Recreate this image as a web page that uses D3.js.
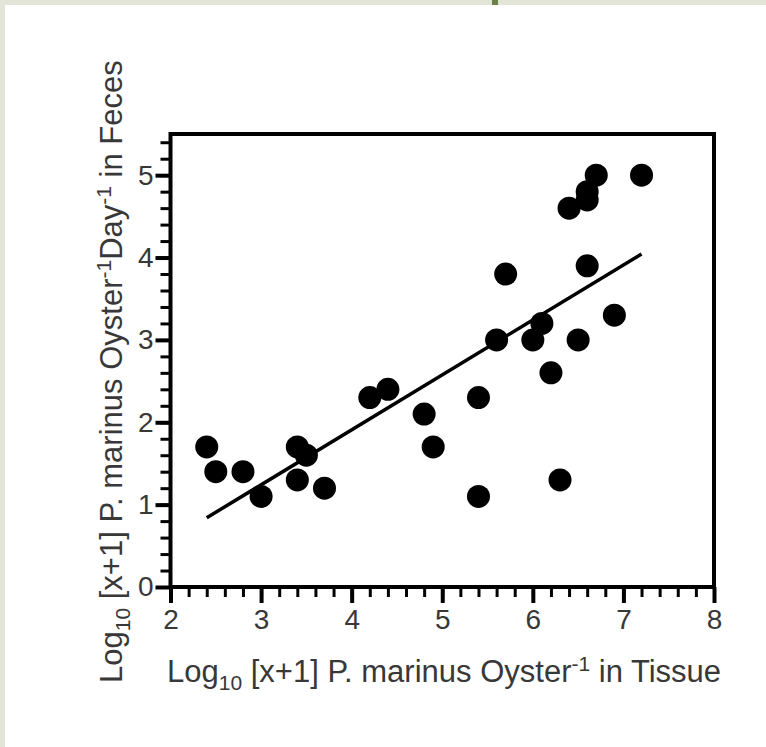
<!DOCTYPE html>
<html>
<head>
<meta charset="utf-8">
<script src="https://cdn.jsdelivr.net/npm/d3@7"></script>
<style>
  html, body { margin: 0; padding: 0; background: #fff; }
  svg { display: block; }
  .tick text { font-family: "Liberation Sans", Arial, Helvetica, sans-serif; fill: #383838; }
</style>
</head>
<body>
<div id="chart"></div>
<script>
// tissue load (x) vs faecal output (y), both log10 [x+1]
const tissue = [2.4, 2.5, 2.8, 3.0, 3.4, 3.5, 3.4, 3.7, 4.2, 4.4, 4.8, 4.9, 5.4, 5.4,
                5.6, 5.7, 6.0, 6.1, 6.2, 6.3, 6.5, 6.6, 6.9, 6.4, 6.6, 6.6, 6.7, 7.2];
const feces  = [1.7, 1.4, 1.4, 1.1, 1.7, 1.6, 1.3, 1.2, 2.3, 2.4, 2.1, 1.7, 2.3, 1.1,
                3.0, 3.8, 3.0, 3.2, 2.6, 1.3, 3.0, 3.9, 3.3, 4.6, 4.7, 4.8, 5.0, 5.0];

// regression line, drawn over the range of the data
const fitSlope = 0.667;
const fitIntercept = -0.76;
const fitRange = [2.4, 7.2];

const xTicks = [2, 3, 4, 5, 6, 7, 8];
const yTicks = [0, 1, 2, 3, 4, 5];
const xMinorTicks = d3.range(2, 8.001, 0.2);
const yMinorTicks = d3.range(0, 5.401, 0.2);

const options = {
    width: 766,
    height: 747,
    plot: { left: 170.5, right: 714, top: 134, bottom: 587 },
    font: '"Liberation Sans", Arial, Helvetica, sans-serif',
    radius: 11.5
};

const svg = d3.select('#chart').append('svg')
    .attr('width', options.width)
    .attr('height', options.height);

// page border strips
svg.append('rect').attr('x', 0).attr('y', 0).attr('width', options.width).attr('height', 5).attr('fill', '#e3e5d8');
svg.append('rect').attr('x', 0).attr('y', 0).attr('width', 5).attr('height', options.height).attr('fill', '#e3e5d8');
svg.append('rect').attr('x', 492).attr('y', 0).attr('width', 6).attr('height', 5).attr('fill', '#6d8147');

const x = d3.scaleLinear().domain([2, 8]).range([options.plot.left, options.plot.right]);
const y = d3.scaleLinear().domain([0, 5.5]).range([options.plot.bottom, options.plot.top]);

// minor ticks
svg.append('g')
    .attr('transform', 'translate(0,' + options.plot.bottom + ')')
    .call(d3.axisBottom(x).tickValues(xMinorTicks).tickSize(10).tickFormat(''))
    .call(g => g.select('.domain').remove())
    .call(g => g.selectAll('line').attr('stroke', '#000').attr('stroke-width', 3));
svg.append('g')
    .attr('transform', 'translate(' + options.plot.left + ',0)')
    .call(d3.axisLeft(y).tickValues(yMinorTicks).tickSize(10).tickFormat(''))
    .call(g => g.select('.domain').remove())
    .call(g => g.selectAll('line').attr('stroke', '#000').attr('stroke-width', 3));

// major ticks and labels
svg.append('g')
    .attr('transform', 'translate(0,' + options.plot.bottom + ')')
    .call(d3.axisBottom(x).tickValues(xTicks).tickSize(16).tickPadding(6).tickFormat(d3.format('d')))
    .call(g => g.select('.domain').remove())
    .call(g => g.selectAll('line').attr('stroke', '#000').attr('stroke-width', 4))
    .call(g => g.selectAll('text').attr('font-size', 28));
svg.append('g')
    .attr('transform', 'translate(' + options.plot.left + ',0)')
    .call(d3.axisLeft(y).tickValues(yTicks).tickSize(15).tickPadding(2).tickFormat(d3.format('d')))
    .call(g => g.select('.domain').remove())
    .call(g => g.selectAll('line').attr('stroke', '#000').attr('stroke-width', 4))
    .call(g => g.selectAll('text').attr('font-size', 28));

// frame
svg.append('rect')
    .attr('x', options.plot.left)
    .attr('y', options.plot.top)
    .attr('width', options.plot.right - options.plot.left)
    .attr('height', options.plot.bottom - options.plot.top)
    .attr('fill', 'none')
    .attr('stroke', '#000')
    .attr('stroke-width', 4);

// fit line
const line = d3.line()
    .x(d => x(d))
    .y(d => y(fitSlope * d + fitIntercept));
svg.append('path')
    .datum(fitRange)
    .attr('d', line)
    .attr('fill', 'none')
    .attr('stroke', '#000')
    .attr('stroke-width', 3.5);

// points
svg.append('g')
    .selectAll('circle')
    .data(tissue.map((t, i) => ({ t: t, f: feces[i] })))
    .enter()
    .append('circle')
    .attr('cx', d => x(d.t))
    .attr('cy', d => y(d.f))
    .attr('r', options.radius)
    .attr('fill', '#000');

// axis titles with sub/superscripts
function title(sel, parts) {
    parts.forEach(function(p) {
        const ts = sel.append('tspan').text(p.text);
        if (p.sub) ts.attr('font-size', 21).attr('dy', 8);
        if (p.sup) ts.attr('font-size', 21).attr('dy', -11);
        if (p.reset) ts.attr('dy', p.reset);
    });
}

const xTitle = svg.append('text')
    .attr('x', 167)
    .attr('y', 682)
    .attr('font-family', options.font)
    .attr('font-size', 31)
    .attr('fill', '#383838');
title(xTitle, [
    { text: 'Log' },
    { text: '10', sub: true },
    { text: ' [x+1] P. marinus Oyster', reset: -8 },
    { text: '-1', sup: true },
    { text: ' in Tissue', reset: 11 }
]);

const yTitle = svg.append('text')
    .attr('transform', 'translate(122,683) rotate(-90)')
    .attr('font-family', options.font)
    .attr('font-size', 31)
    .attr('fill', '#383838');
title(yTitle, [
    { text: 'Log' },
    { text: '10', sub: true },
    { text: ' [x+1] P. marinus Oyster', reset: -8 },
    { text: '-1', sup: true },
    { text: 'Day', reset: 11 },
    { text: '-1', sup: true },
    { text: ' in Feces', reset: 11 }
]);
</script>
</body>
</html>
